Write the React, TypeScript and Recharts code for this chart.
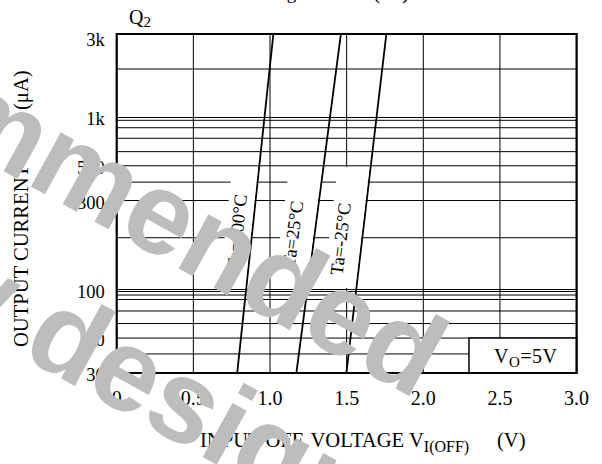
import React from 'react';
import { LineChart, Line, XAxis, YAxis, CartesianGrid, ReferenceArea, ReferenceDot } from 'recharts';

// ---- data ----
const voltageTicks = [0, 0.5, 1.0, 1.5, 2.0, 2.5, 3.0];
const currentMin = 32.7;
const currentMax = 3058;
const currentGrid = [32.7, 42.2, 52.2, 63.4, 75.0, 87.5, 92.9, 97.4, 100, 200, 329, 421, 524, 633, 757, 872, 963, 1000, 1914, 3058];
const currentLabelValues = [32.7, 52.2, 100, 329, 524, 1000, 3058];
const currentLabelTexts = ['30', '50', '100', '300', '500', '1k', '3k'];

const ta100 = [{ v: 0.786, i: 32.7 }, { v: 1.022, i: 3058 }];
const ta25 = [{ v: 1.172, i: 32.7 }, { v: 1.4625, i: 3058 }];
const taM25 = [{ v: 1.498, i: 32.7 }, { v: 1.759, i: 3058 }];

const curveLabels = [
  { text: 'Ta=100°C', v: 0.786, i: 216, angle: -83.9 },
  { text: 'Ta=25°C', v: 1.15, i: 210, angle: -82.5 },
  { text: 'Ta=-25°C', v: 1.462, i: 197, angle: -83.3 },
];

const voBox = { x1: 2.298, x2: 3.0, y1: 32.7, y2: 52.2 };

// current at which the label background band is centred
const maskCenterCurrent = 229.3;

const SERIF = '"Liberation Serif", "Times New Roman", serif';

// mask geometry (px): width left of curve, half height, slope of curve
const maskStyles = [
  { w: 26, h: 60.5, s: 0.107 },
  { w: 33, h: 60.5, s: 0.131 },
  { w: 32, h: 60.5, s: 0.118 },
];

function vAt(series: { v: number; i: number }[], cur: number) {
  const a = series[0], b = series[1];
  const t = Math.log(cur / a.i) / Math.log(b.i / a.i);
  return a.v + (b.v - a.v) * t;
}

const YTick = (props: any) => {
  const { x, y, payload } = props;
  const idx = currentLabelValues.findIndex((v) => Math.abs(v - payload.value) < 1e-6);
  if (idx < 0) return null;
  const dy = currentLabelTexts[idx] === '3k' ? 6 : 2;
  return (
    <text x={x} y={y + dy} textAnchor="end" dominantBaseline="central" fontSize={18.5} fontFamily={SERIF} fill="#000">
      {currentLabelTexts[idx]}
    </text>
  );
};

const XTick = (props: any) => {
  const { x, y, payload } = props;
  const label = payload.value === 0 ? '0' : payload.value.toFixed(1);
  return (
    <text x={x} y={y + 32} textAnchor="middle" fontSize={20} fontFamily={SERIF} fill="#000">
      {label}
    </text>
  );
};

const makeLabelShape = (text: string, angle: number) => (props: any) => {
  const { cx, cy } = props;
  return (
    <text
      x={cx}
      y={cy}
      transform={`rotate(${angle}, ${cx}, ${cy})`}
      textAnchor="middle"
      dominantBaseline="central"
      fontSize={18.4}
      fontFamily={SERIF}
      fill="#000"
    >
      {text}
    </text>
  );
};

const makeMaskShape = (m: { w: number; h: number; s: number }) => (props: any) => {
  const { cx, cy } = props;
  const t = m.h * m.s;
  const pts = [
    [cx - m.w - 1 + t, cy - m.h],
    [cx - 1.2 + t, cy - m.h],
    [cx - 1.2 - t, cy + m.h],
    [cx - m.w - 1 - t, cy + m.h],
  ]
    .map((p) => p.join(','))
    .join(' ');
  return <polygon points={pts} fill="#fff" stroke="none" />;
};

const VoLabel = (props: any) => {
  const { viewBox } = props;
  const x0 = viewBox.x + 25;
  const cy = viewBox.y + viewBox.height / 2;
  return (
    <text x={x0} y={cy + 7} fontSize={20} fontFamily={SERIF} fill="#000" letterSpacing={0.5}>
      V
      <tspan fontSize={15} dy={4}>O</tspan>
      <tspan dy={-4}>=5V</tspan>
    </text>
  );
};

export default function App() {
  const series = [ta100, ta25, taM25];
  return (
    <div style={{ position: 'absolute', left: 0, top: 0, width: 602, height: 464, background: '#fff' }}>
      <LineChart width={602} height={464} margin={{ top: 34, right: 25.4, bottom: 61, left: 56.7 }}>
        <CartesianGrid stroke="#000" strokeWidth={1} />
        <XAxis
          dataKey="v"
          type="number"
          domain={[0, 3]}
          ticks={voltageTicks}
          axisLine={false}
          tickLine={false}
          tickSize={0}
          tickMargin={0}
          height={30}
          tick={<XTick />}
          allowDataOverflow
        />
        <YAxis
          dataKey="i"
          type="number"
          scale="log"
          domain={[currentMin, currentMax]}
          ticks={currentGrid}
          axisLine={false}
          tickLine={false}
          tickSize={0}
          tickMargin={12}
          width={60}
          tick={<YTick />}
          allowDataOverflow
          interval={0}
        />
        {series.map((s, k) => (
          <ReferenceDot
            key={'m' + k}
            x={vAt(s, maskCenterCurrent)}
            y={maskCenterCurrent}
            r={0}
            shape={makeMaskShape(maskStyles[k])}
          />
        ))}
        <ReferenceArea
          x1={voBox.x1}
          x2={voBox.x2}
          y1={voBox.y1}
          y2={voBox.y2}
          fill="#fff"
          fillOpacity={1}
          stroke="#000"
          strokeWidth={1.5}
          label={<VoLabel />}
        />
        {series.map((s, k) => (
          <Line
            key={'c' + k}
            data={s}
            dataKey="i"
            stroke="#000"
            strokeWidth={1.8}
            dot={false}
            isAnimationActive={false}
          />
        ))}
        {curveLabels.map((l, k) => (
          <ReferenceDot key={'l' + k} x={l.v} y={l.i} r={0} shape={makeLabelShape(l.text, l.angle)} />
        ))}
        <ReferenceArea x1={0} x2={3} y1={currentMin} y2={currentMax} fill="none" stroke="#000" strokeWidth={2.2} />
      </LineChart>
      <svg width={602} height={464} style={{ position: 'absolute', left: 0, top: 0, pointerEvents: 'none' }}>
        <text x={247} y={-1} fontSize={19} fontFamily={SERIF} fill="#000">Voltage</text>
        <text x={373} y={-1} fontSize={22} fontFamily={SERIF} fill="#000">(Ta)</text>
        <text x={129} y={24} fontSize={20} fontFamily={SERIF} fill="#000">
          Q<tspan fontSize={15} dy={3}>2</tspan>
        </text>
        <text transform="rotate(-90)" x={-347} y={28} fontSize={20.6} fontFamily={SERIF} fill="#000">
          OUTPUT CURRENT I<tspan fontSize={15} dy={4}>O</tspan>
          <tspan x={-110} dy={-4}>(μA)</tspan>
        </text>
        <text x={200} y={447} fontSize={20.6} fontFamily={SERIF} fill="#000">
          INPUT OFF
          <tspan x={310.5}>VOLTAGE V</tspan>
          <tspan fontSize={16} dy={5}>I(OFF)</tspan>
          <tspan x={497} dy={-5}>(V)</tspan>
        </text>
        <g fill="#bdbdbd" fontFamily='"Liberation Sans", Arial, sans-serif' fontWeight="bold" fontSize={117}>
          <text x={416} y={400} textAnchor="end" transform="rotate(29, 416, 400)">Not recommended</text>
          <text x={349} y={538} textAnchor="end" transform="rotate(29, 349, 538)">for new design</text>
        </g>
      </svg>
    </div>
  );
}
